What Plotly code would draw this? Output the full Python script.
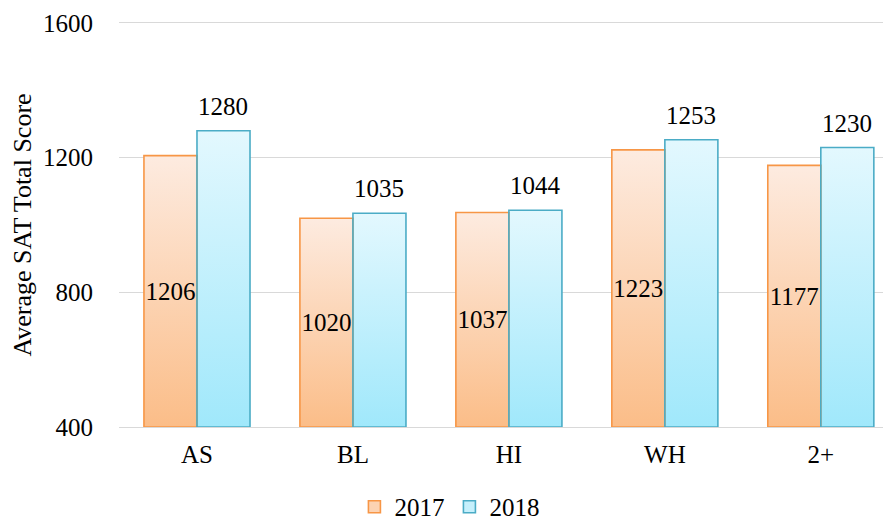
import plotly.graph_objects as go

categories = ["AS", "BL", "HI", "WH", "2+"]
scores_2017 = [1206, 1020, 1037, 1223, 1177]
scores_2018 = [1280, 1035, 1044, 1253, 1230]
y_ticks = [400, 800, 1200, 1600]

AXIS_MIN, AXIS_MAX = 400, 1600
BAR_W = 0.34
FONT = "Liberation Serif"
FS = 25

series = [
    dict(name="2017", values=scores_2017, offset=-BAR_W, line="#F79646",
         legend_fill="#FCD3B3", scale=[[0, "#FBBD88"], [1, "#FDEBE0"]]),
    dict(name="2018", values=scores_2018, offset=0.0, line="#4BACC6",
         legend_fill="#C6F0FC", scale=[[0, "#A0E8FB"], [1, "#E3F8FE"]]),
]

fig = go.Figure()
idx = list(range(len(categories)))

# gradient fills (base subplot)
for s in series:
    for i, v in zip(idx, s["values"]):
        x0 = i + s["offset"]
        x1 = x0 + BAR_W
        fig.add_trace(go.Scatter(
            x=[x0, x0, x1, x1, x0], y=[AXIS_MIN, v, v, AXIS_MIN, AXIS_MIN],
            mode="lines", fill="toself", line=dict(width=0),
            fillgradient=dict(type="vertical", colorscale=s["scale"]),
            hoverinfo="skip", showlegend=False, xaxis="x", yaxis="y"))

# bars (outline + labels) on overlay subplot
for k, s in enumerate(series):
    inside = (k == 0)
    fig.add_trace(go.Bar(
        x=idx, y=[v - AXIS_MIN for v in s["values"]], base=AXIS_MIN,
        width=BAR_W, offset=s["offset"], name=s["name"],
        marker=dict(color="rgba(0,0,0,0)", line=dict(color=s["line"], width=1.6)),
        text=[str(v) for v in s["values"]] if inside else None,
        textposition="inside" if inside else "none",
        insidetextanchor="middle", textangle=0, constraintext="none",
        textfont=dict(family=FONT, size=FS, color="black"),
        cliponaxis=False, showlegend=False, xaxis="x2", yaxis="y2"))
    # legend swatch
    fig.add_trace(go.Bar(
        x=[None], y=[None], name=s["name"],
        marker=dict(color=s["legend_fill"], line=dict(color=s["line"], width=1.6)),
        xaxis="x2", yaxis="y2"))

# outside labels for 2018
for i, v in zip(idx, scores_2018):
    fig.add_annotation(
        x=i + BAR_W / 2, y=v, xref="x2", yref="y2", text=str(v),
        showarrow=False, yanchor="bottom", yshift=9,
        font=dict(family=FONT, size=FS, color="black"))

xr = [-0.5, 4.45]
fig.update_layout(
    template="none",
    width=883, height=514,
    margin=dict(l=111, r=0, t=15, b=95, autoexpand=False),
    paper_bgcolor="white", plot_bgcolor="white",
    font=dict(family=FONT, size=FS, color="black"),
    barmode="overlay",
    xaxis=dict(range=xr, tickvals=idx, ticktext=categories, showgrid=False,
               zeroline=False, showline=True, mirror=True, linecolor="#D9D9D9",
               linewidth=1.3, ticks="", ticklabelstandoff=5,
               tickfont=dict(family=FONT, size=FS, color="black")),
    yaxis=dict(range=[AXIS_MIN, AXIS_MAX], tickvals=y_ticks, showgrid=True,
               gridcolor="#D9D9D9", gridwidth=1.3, zeroline=False, showline=False,
               ticks="", ticklabelstandoff=25,
               tickfont=dict(family=FONT, size=FS, color="black"),
               title=dict(text="Average SAT Total Score",
                          font=dict(family=FONT, size=26, color="black"), standoff=8)),
    xaxis2=dict(range=xr, overlaying="x", visible=False),
    yaxis2=dict(range=[AXIS_MIN, AXIS_MAX], overlaying="y", visible=False),
    legend=dict(orientation="h", x=0.428, xanchor="center",
                y=-0.198, yanchor="middle",
                font=dict(family=FONT, size=FS, color="black"),
                itemwidth=30, traceorder="normal", bgcolor="rgba(0,0,0,0)"),
    showlegend=True,
)

fig.write_html("out.html")
